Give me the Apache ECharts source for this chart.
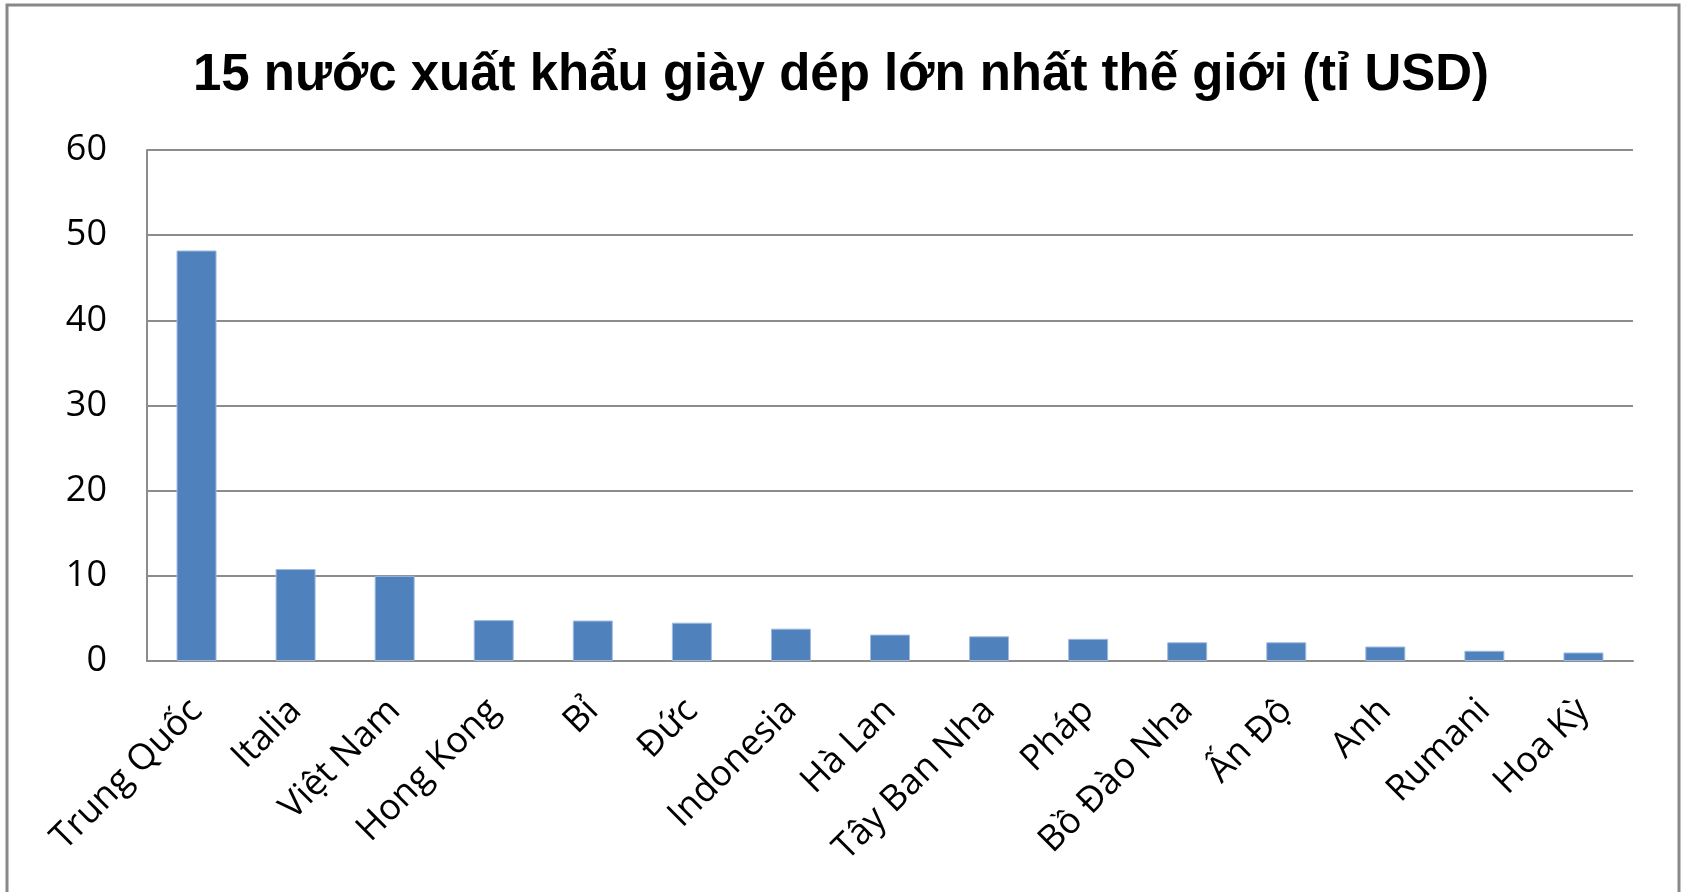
<!DOCTYPE html>
<html>
<head>
<meta charset="utf-8">
<title>15 nước xuất khẩu giày dép</title>
<script src="https://cdn.jsdelivr.net/npm/echarts@6/dist/echarts.min.js"></script>
<style>
  html, body { margin: 0; padding: 0; background: #fff; }
  #chart { width: 1682px; height: 892px; }
</style>
</head>
<body>
<div id="chart"></div>
<script>
  // data
  var countries = ['Trung Quốc', 'Italia', 'Việt Nam', 'Hong Kong', 'Bỉ', 'Đức', 'Indonesia', 'Hà Lan',
    'Tây Ban Nha', 'Pháp', 'Bồ Đào Nha', 'Ấn Độ', 'Anh', 'Rumani', 'Hoa Kỳ'];
  var exportValues = [48.2, 10.8, 10.0, 4.8, 4.75, 4.5, 3.8, 3.1, 2.9, 2.6, 2.2, 2.2, 1.7, 1.2, 1.0];
  var yTicks = [0, 10, 20, 30, 40, 50, 60];

  var chartDom = document.getElementById('chart');
  var myChart = echarts.init(chartDom);
  var option;

  option = {
    backgroundColor: '#fff',
    animation: false,
    title: {
      text: '15 nước xuất khẩu giày dép lớn nhất thế giới (tỉ USD)',
      left: 'center',
      top: 45,
      textStyle: {
        fontFamily: 'Liberation Sans, Arial, sans-serif',
        fontWeight: 'bold',
        fontSize: 51,
        color: '#000'
      }
    },
    // outer frame of the chart area
    graphic: [
      {
        type: 'rect',
        shape: { x: 7, y: 5, width: 1672, height: 910 },
        style: { fill: 'none', stroke: '#888', lineWidth: 3 },
        silent: true
      }
    ],
    grid: {
      left: 147,
      right: 49,
      top: 150,
      bottom: 231
    },
    xAxis: {
      type: 'category',
      data: countries,
      axisLine: { lineStyle: { color: '#8c8c8c', width: 2 } },
      axisTick: { show: false },
      axisLabel: {
        rotate: 45,
        margin: 44,
        interval: 0,
        fontFamily: 'Open Sans, sans-serif',
        fontSize: 36,
        color: '#000'
      }
    },
    yAxis: {
      type: 'value',
      min: yTicks[0],
      max: yTicks[yTicks.length - 1],
      interval: 10,
      axisLine: { show: true, lineStyle: { color: '#8c8c8c', width: 2 } },
      axisTick: { show: false },
      splitLine: { lineStyle: { color: '#8c8c8c', width: 2 } },
      axisLabel: {
        margin: 40,
        fontFamily: 'Open Sans, sans-serif',
        fontSize: 36,
        color: '#000'
      }
    },
    series: [
      {
        type: 'bar',
        data: exportValues,
        barWidth: 40,
        itemStyle: {
          color: '#4f81bd',
          borderColor: '#9fbbe0',
          borderWidth: 1
        }
      }
    ]
  };
  option && myChart.setOption(option);
</script>
</body>
</html>
